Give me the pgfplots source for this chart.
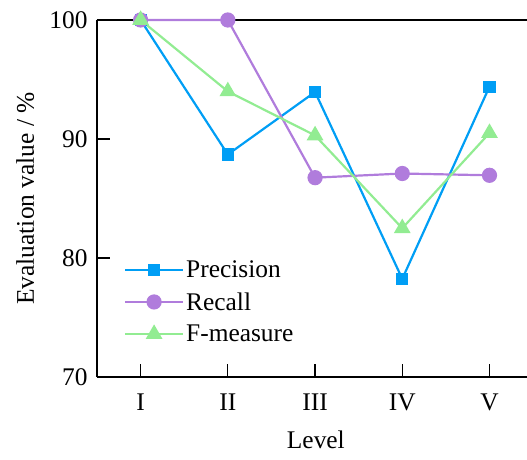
\documentclass[border=0pt]{standalone}
\usepackage{pgfplots}
\pgfplotsset{compat=1.18}
\usepackage{fontspec}
\setmainfont{Liberation Serif}
\definecolor{cP}{RGB}{0,158,245}
\definecolor{cR}{RGB}{176,124,220}
\definecolor{cF}{RGB}{146,236,146}
\begin{document}
\begin{tikzpicture}
\begin{axis}[
  at={(0,0)}, anchor=south west,
  scale only axis, width=430bp, height=357bp,
  xmin=-0.5, xmax=4.43, ymin=70, ymax=100,
  axis x line*=box, axis y line*=left,
  xtick={0,1,2,3,4}, xticklabels={I,II,III,IV,V},
  ytick={70,80,90,100},
  xtick pos=bottom, ytick pos=left,
  tick align=inside,
  major tick length=13bp,
  x tick style={line width=1.2bp, black},
  y tick style={line width=1.2bp, black, shorten >=7bp},
  axis line style={line width=1.8bp, black},
  /pgf/number format/assume math mode=true,
  font=\fontsize{25.5}{30}\selectfont,
  xticklabel style={yshift=-13bp},
  yticklabel style={xshift=-6bp},
  ylabel={Evaluation value / \%},
  xlabel={Level},
  ylabel style={at={(axis description cs:-0.167,0.5)}, anchor=center, rotate=0},
  xlabel style={at={(axis description cs:0.509,-0.176)}, anchor=center},
  legend style={draw=none, fill=none, at={(axis description cs:0.06,0.335)}, anchor=north west,
    font=\fontsize{25.5}{30}\selectfont, row sep=9.5bp, inner sep=1bp,
    /tikz/every even column/.append style={column sep=0bp}},
  legend cell align=left,
  legend image code/.code={\draw[mark repeat=2,mark phase=2] plot coordinates {(0bp,0bp)(29bp,0bp)(58bp,0bp)};},
  every axis plot/.append style={line width=2.2bp},
  clip=false,
]
\addplot[color=cP, mark=square*, mark size=5bp, mark options={solid}] coordinates {(0,100)(1,88.7)(2,93.95)(3,78.25)(4,94.4)};
\addlegendentry{Precision}
\addplot[color=cR, mark=*, mark size=6.5bp] coordinates {(0,100)(1,100)(2,86.75)(3,87.1)(4,86.95)};
\addlegendentry{Recall}
\addplot[color=cF, mark=triangle*, mark size=7.5bp] coordinates {(0,100)(1,94.0)(2,90.3)(3,82.5)(4,90.5)};
\addlegendentry{F-measure}
\end{axis}
\pgfresetboundingbox
\useasboundingbox (-97bp,-83bp) rectangle (430bp,377bp);
\end{tikzpicture}
\end{document}
